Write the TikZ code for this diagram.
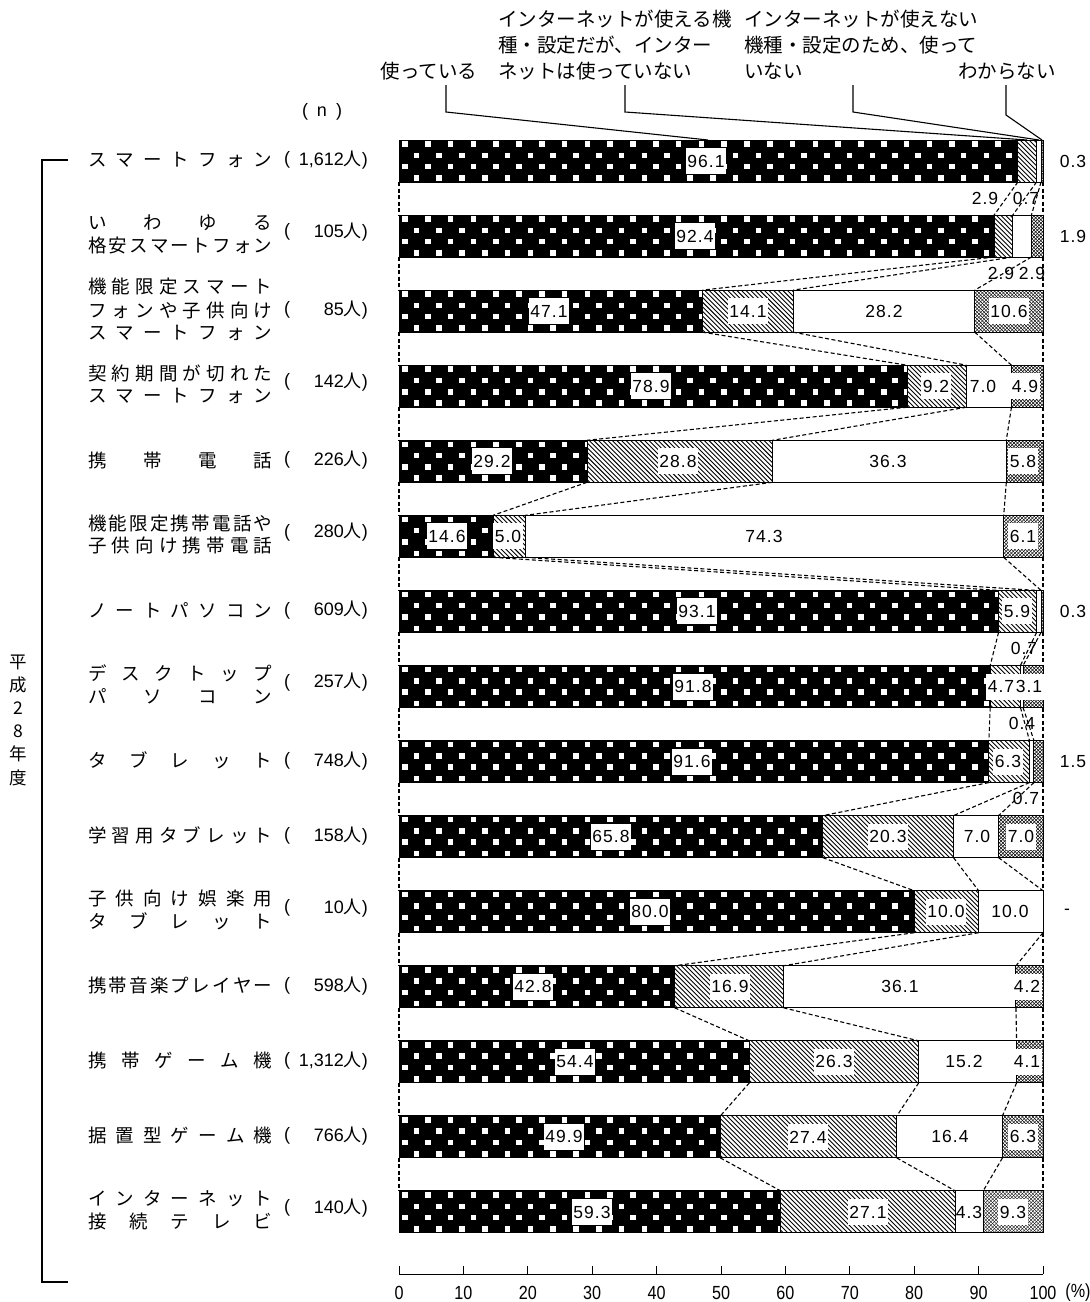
\documentclass[tikz,border=0pt]{standalone}
\usepackage{fontspec}
\setmainfont{Liberation Sans}
\newfontfamily\jp{Noto Sans CJK JP}
\newfontfamily\numf[LetterSpace=6]{Liberation Sans}
\newfontfamily\axf[FakeStretch=0.85]{Liberation Sans}
\def\sprA#1{\ifx\relax#1\else#1\expandafter\sprB\fi}
\def\sprB#1{\ifx\relax#1\else\hfill#1\expandafter\sprB\fi}
\newcommand\spr[1]{\makebox[184pt][l]{\sprA#1\relax}}
\tikzset{
  lab/.style={font=\numf\fontsize{17.5}{17.5}\selectfont, fill=white, inner xsep=1.5pt, inner ysep=0pt, minimum height=26pt},
  labn/.style={font=\numf\fontsize{17.5}{17.5}\selectfont, inner sep=1pt},
  conn/.style={dash pattern=on 4pt off 2.5pt, line width=1.1pt},
  lead/.style={line width=1.1pt},
  seg/.style={draw=black, line width=1pt},
  cat/.style={font=\jp\fontsize{18.5}{18.5}\selectfont, anchor=west, inner sep=0pt},
  par/.style={font=\fontsize{18}{18}\selectfont, inner sep=0pt},
  cnt/.style={font=\fontsize{18}{18}\selectfont, anchor=east, inner sep=0pt},
  leg/.style={font=\jp\fontsize{19.5}{19.5}\selectfont, inner sep=0pt},
  ax/.style={font=\axf\fontsize{19}{19}\selectfont, inner sep=0pt},
}
\begin{document}
\begin{tikzpicture}[x=1pt,y=-1pt]
\useasboundingbox (0,0) rectangle (1090,1302);
\fill[white] (0,0) rectangle (1090,1302);

% ---------- bars ----------
\foreach \i/\a/\b/\c in {1/96.1/2.9/0.7, 2/92.4/2.9/2.9, 3/47.1/14.1/28.2, 4/78.9/9.2/7.0, 5/29.2/28.8/36.3, 6/14.6/5.0/74.3, 7/93.1/5.9/0.7, 8/91.8/4.7/0.4, 9/91.6/6.3/0.7, 10/65.8/20.3/7.0, 11/80.0/10.0/10.0, 12/42.8/16.9/36.1, 13/54.4/26.3/15.2, 14/49.9/27.4/16.4, 15/59.3/27.1/4.3}{
  \pgfmathsetmacro\yT{140+75.07*(\i-1)}
  \pgfmathsetmacro\yB{\yT+42}
  \pgfmathsetmacro\pA{399+6.44*\a}
  \pgfmathsetmacro\pB{399+6.44*(\a+\b)}
  \pgfmathsetmacro\pC{min(1043,399+6.44*(\a+\b+\c))}
  \coordinate (t\i-0) at (399,\yT);  \coordinate (b\i-0) at (399,\yB);
  \coordinate (t\i-1) at (\pA,\yT);  \coordinate (b\i-1) at (\pA,\yB);
  \coordinate (t\i-2) at (\pB,\yT);  \coordinate (b\i-2) at (\pB,\yB);
  \coordinate (t\i-3) at (\pC,\yT);  \coordinate (b\i-3) at (\pC,\yB);
  \coordinate (t\i-4) at (1043,\yT); \coordinate (b\i-4) at (1043,\yB);
  % used: black with white squares
  \fill[black] (t\i-0) rectangle (b\i-1);
  \begin{scope}
    \clip (t\i-0) rectangle (b\i-1);
    \foreach \k in {0,1,2,3}{
      \foreach \j in {0,...,28}{
        \pgfmathsetmacro\qx{405+\j*22.8+mod(\k,2)*11.4}
        \pgfmathsetmacro\qy{\yT+4+\k*11.3}
        \fill[white] ({\qx-2.75},{\qy-2.75}) rectangle ({\qx+2.75},{\qy+2.75});
      }
    }
  \end{scope}
  % hatch
  \begin{scope}
    \clip (t\i-1) rectangle (b\i-2);
    \pgfmathtruncatemacro\nh{(\pB-\pA+44)/4.6+1}
    \foreach \s in {0,...,\nh}{
      \draw[line width=0.9pt] ({\pA-44+\s*4.6},\yT) -- ++(42,42);
    }
  \end{scope}
  % don't know: fine crosshatch
  \begin{scope}
    \clip (t\i-3) rectangle (b\i-4);
    \pgfmathtruncatemacro\nd{(1043-\pC+44)/3.5+1}
    \foreach \s in {0,...,\nd}{
      \draw[line width=0.5pt] ({\pC-44+\s*3.5},\yT) -- ++(42,42);
      \draw[line width=0.5pt] ({\pC+\s*3.5},\yT) -- ++(-42,42);
    }
  \end{scope}
  \draw[seg] (t\i-0) rectangle (b\i-4);
  \draw[seg] (t\i-1) -- (b\i-1);
  \draw[seg] (t\i-2) -- (b\i-2);
  \draw[seg] (t\i-3) -- (b\i-3);
}

% ---------- dashed connectors ----------
\foreach \i [evaluate=\i as \j using int(\i+1)] in {1,...,14}{
  \foreach \k in {0,...,4}{
    \draw[conn] (b\i-\k) -- (t\j-\k);
  }
}

% ---------- legend ----------
\node[leg] (lgA) at (429,71) {使っている};
\node[leg, anchor=west] (lgB1) at (498,19) {インターネットが使える機};
\node[leg, anchor=west] (lgB2) at (498,45) {種・設定だが、インター};
\node[leg, anchor=west] (lgB3) at (498,71) {ネットは使っていない};
\node[leg, anchor=west] (lgC1) at (744,19) {インターネットが使えない};
\node[leg, anchor=west] (lgC2) at (744,45) {機種・設定のため、使って};
\node[leg, anchor=west] (lgC3) at (744,71) {いない};
\node[leg] (lgD) at (1007,71) {わからない};
\coordinate (l1a) at (446,85);  \coordinate (l1b) at (446,112);  \coordinate (l1c) at (708,140);
\coordinate (l2a) at (625,85);  \coordinate (l2b) at (625,112);  \coordinate (l2c) at (1027,140);
\coordinate (l3a) at (853,85);  \coordinate (l3b) at (853,112);  \coordinate (l3c) at (1039,140);
\coordinate (l4a) at (1006,85); \coordinate (l4b) at (1006,115); \coordinate (l4c) at (1042,140);
\draw[lead] (l1a) -- (l1b) -- (l1c);
\draw[lead] (l2a) -- (l2b) -- (l2c);
\draw[lead] (l3a) -- (l3b) -- (l3c);
\draw[lead] (l4a) -- (l4b) -- (l4c);

% ---------- value labels ----------
\node[lab] (v1a) at (706,161) {96.1};
\node[labn] (v1d) at (1073,161) {0.3};
\node[labn] (v1b) at (985,198) {2.9};
\node[labn] (v1c) at (1026,198) {0.7};
\node[lab] (v2a) at (695,236.1) {92.4};
\node[labn] (v2d) at (1073,236.1) {1.9};
\node[labn] (v2b) at (1001,273) {2.9};
\node[labn] (v2c) at (1032,273) {2.9};
\node[lab] (v3a) at (549,311.1) {47.1};
\node[lab] (v3b) at (748,311.1) {14.1};
\node[labn] (v3c) at (884,311.1) {28.2};
\node[lab] (v3d) at (1009,311.1) {10.6};
\node[lab] (v4a) at (651,386.2) {78.9};
\node[lab] (v4b) at (936,386.2) {9.2};
\node[labn] (v4c) at (983,386.2) {7.0};
\node[lab] (v4d) at (1025,386.2) {4.9};
\node[lab] (v5a) at (492,461.3) {29.2};
\node[lab] (v5b) at (678,461.3) {28.8};
\node[labn] (v5c) at (888,461.3) {36.3};
\node[lab] (v5d) at (1023,461.3) {5.8};
\node[lab] (v6a) at (447,536.4) {14.6};
\node[lab] (v6b) at (508,536.4) {5.0};
\node[labn] (v6c) at (764,536.4) {74.3};
\node[lab] (v6d) at (1023,536.4) {6.1};
\node[lab] (v7a) at (697,611.4) {93.1};
\node[lab] (v7b) at (1017,611.4) {5.9};
\node[labn] (v7d) at (1073,611.4) {0.3};
\node[labn] (v7c) at (1024,648) {0.7};
\node[lab] (v8a) at (693,686.5) {91.8};
\node[lab] (v8b) at (1001,686.5) {4.7};
\node[lab] (v8d) at (1029,686.5) {3.1};
\node[labn] (v8c) at (1022,723) {0.4};
\node[lab] (v9a) at (692,761.6) {91.6};
\node[lab] (v9b) at (1008,761.6) {6.3};
\node[labn] (v9d) at (1073,761.6) {1.5};
\node[labn] (v9c) at (1026,798) {0.7};
\node[lab] (v10a) at (611,836.6) {65.8};
\node[lab] (v10b) at (888,836.6) {20.3};
\node[labn] (v10c) at (977,836.6) {7.0};
\node[lab] (v10d) at (1021,836.6) {7.0};
\node[lab] (v11a) at (650,911.7) {80.0};
\node[lab] (v11b) at (946,911.7) {10.0};
\node[labn] (v11c) at (1010,911.7) {10.0};
\node[labn] (v11d) at (1067,911.7) {-};
\node[lab] (v12a) at (533,986.8) {42.8};
\node[lab] (v12b) at (730,986.8) {16.9};
\node[labn] (v12c) at (900,986.8) {36.1};
\node[lab] (v12d) at (1027,986.8) {4.2};
\node[lab] (v13a) at (575,1061.8) {54.4};
\node[lab] (v13b) at (834,1061.8) {26.3};
\node[labn] (v13c) at (964,1061.8) {15.2};
\node[lab] (v13d) at (1027,1061.8) {4.1};
\node[lab] (v14a) at (564,1136.9) {49.9};
\node[lab] (v14b) at (808,1136.9) {27.4};
\node[labn] (v14c) at (950,1136.9) {16.4};
\node[lab] (v14d) at (1023,1136.9) {6.3};
\node[lab] (v15a) at (592,1212) {59.3};
\node[lab] (v15b) at (868,1212) {27.1};
\node[labn] (v15c) at (969,1212) {4.3};
\node[lab] (v15d) at (1013,1212) {9.3};

% ---------- category labels ----------
\node[par] (nhead) at (322,112) {(\hspace{9pt}n\hspace{9pt})};
\node[cat] (c1) at (88,160) {\spr{スマートフォン}};
\node[par] (p1) at (287,160) {(};
\node[cnt] (n1) at (368,160) {1,612{\jp 人})};

\node[cat] (c2a) at (88,223.1) {\spr{いわゆる}};
\node[cat] (c2b) at (88,245.6) {\spr{格安スマートフォン}};
\node[par] (p2) at (287,232.1) {(};
\node[cnt] (n2) at (368,232.1) {105{\jp 人})};

\node[cat] (c3a) at (88,287) {\spr{機能限定スマート}};
\node[cat] (c3b) at (88,310) {\spr{フォンや子供向け}};
\node[cat] (c3c) at (88,333) {\spr{スマートフォン}};
\node[par] (p3) at (287,310) {(};
\node[cnt] (n3) at (368,310) {85{\jp 人})};

\node[cat] (c4a) at (88,373.2) {\spr{契約期間が切れた}};
\node[cat] (c4b) at (88,395.7) {\spr{スマートフォン}};
\node[par] (p4) at (287,382.2) {(};
\node[cnt] (n4) at (368,382.2) {142{\jp 人})};

\node[cat] (c5) at (88,460.3) {\spr{携帯電話}};
\node[par] (p5) at (287,460.3) {(};
\node[cnt] (n5) at (368,460.3) {226{\jp 人})};

\node[cat] (c6a) at (88,523.4) {\spr{機能限定携帯電話や}};
\node[cat] (c6b) at (88,545.9) {\spr{子供向け携帯電話}};
\node[par] (p6) at (287,532.4) {(};
\node[cnt] (n6) at (368,532.4) {280{\jp 人})};

\node[cat] (c7) at (88,610.4) {\spr{ノートパソコン}};
\node[par] (p7) at (287,610.4) {(};
\node[cnt] (n7) at (368,610.4) {609{\jp 人})};

\node[cat] (c8a) at (88,673.5) {\spr{デスクトップ}};
\node[cat] (c8b) at (88,696) {\spr{パソコン}};
\node[par] (p8) at (287,682.5) {(};
\node[cnt] (n8) at (368,682.5) {257{\jp 人})};

\node[cat] (c9) at (88,760.6) {\spr{タブレット}};
\node[par] (p9) at (287,760.6) {(};
\node[cnt] (n9) at (368,760.6) {748{\jp 人})};

\node[cat] (c10) at (88,835.6) {\spr{学習用タブレット}};
\node[par] (p10) at (287,835.6) {(};
\node[cnt] (n10) at (368,835.6) {158{\jp 人})};

\node[cat] (c11a) at (88,898.7) {\spr{子供向け娯楽用}};
\node[cat] (c11b) at (88,921.2) {\spr{タブレット}};
\node[par] (p11) at (287,907.7) {(};
\node[cnt] (n11) at (368,907.7) {10{\jp 人})};

\node[cat] (c12) at (88,985.8) {\spr{携帯音楽プレイヤー}};
\node[par] (p12) at (287,985.8) {(};
\node[cnt] (n12) at (368,985.8) {598{\jp 人})};

\node[cat] (c13) at (88,1060.8) {\spr{携帯ゲーム機}};
\node[par] (p13) at (287,1060.8) {(};
\node[cnt] (n13) at (368,1060.8) {1,312{\jp 人})};

\node[cat] (c14) at (88,1135.9) {\spr{据置型ゲーム機}};
\node[par] (p14) at (287,1135.9) {(};
\node[cnt] (n14) at (368,1135.9) {766{\jp 人})};

\node[cat] (c15a) at (88,1199) {\spr{インターネット}};
\node[cat] (c15b) at (88,1221.5) {\spr{接続テレビ}};
\node[par] (p15) at (287,1208) {(};
\node[cnt] (n15) at (368,1208) {140{\jp 人})};

% ---------- bracket & year ----------
\coordinate (brA) at (68,160); \coordinate (brB) at (42,160);
\coordinate (brC) at (42,1282); \coordinate (brD) at (68,1282);
\draw[line width=1.2pt] (brA) -- (brB) -- (brC) -- (brD);
\node[font=\jp\fontsize{17.5}{23.2}\selectfont, align=center, inner sep=0pt] (year) at (18,720) {平\\成\\2\\8\\年\\度};

% ---------- axis ----------
\coordinate (ax0) at (399,1274); \coordinate (ax1) at (1043,1274);
\draw[line width=1pt] (ax0) -- (ax1);
\foreach \t in {0,...,10}{
  \pgfmathtruncatemacro\v{\t*10}
  \coordinate (tk\t) at ({399+64.4*\t},1274);
  \draw[line width=1pt] (tk\t) -- ++(0,-8);
  \node[ax] (tl\t) at ({399+64.4*\t},1293) {\v};
}
\node[ax] (pct) at (1078,1293) {(\%)};
\end{tikzpicture}
\end{document}
